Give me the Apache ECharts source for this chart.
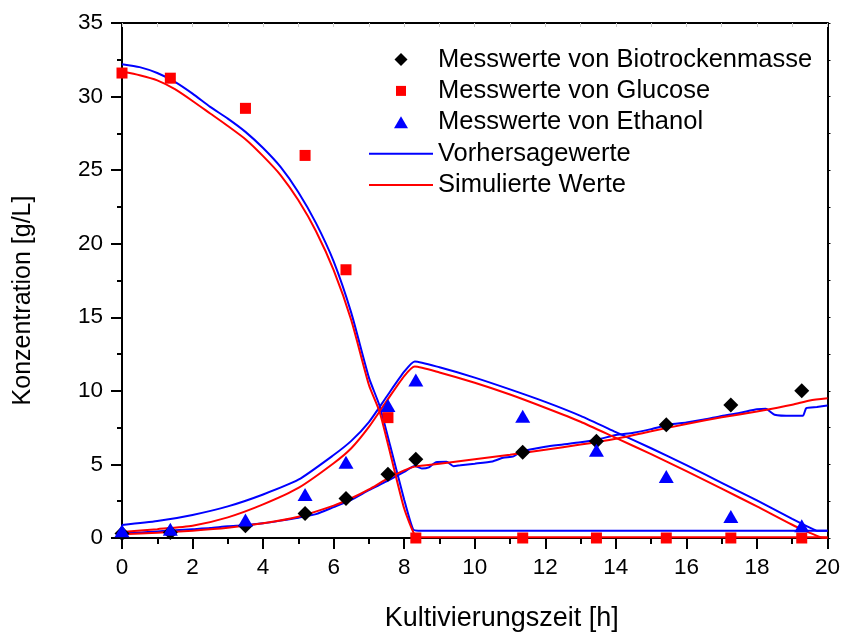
<!DOCTYPE html>
<html>
<head>
<meta charset="utf-8">
<script src="https://cdn.jsdelivr.net/npm/echarts@6/dist/echarts.min.js"></script>
<style>
    html, body { margin: 0; padding: 0; background: #fff; }
    #chart { width: 843px; height: 637px; }
</style>
</head>
<body>
<div id="chart"></div>
<script>
// Messwerte
const measTime = [0, 1.37, 3.5, 5.19, 6.35, 7.54, 8.33, 11.36, 13.45, 15.43, 17.26, 19.27];
const measBio = [0.31, 0.38, 0.83, 1.66, 2.68, 4.34, 5.35, 5.82, 6.58, 7.7, 9.04, 10.0];
const measGlc = [31.6, 31.25, 29.2, 26.0, 18.23, 8.18, 0, 0, 0, 0, 0, 0];
const measEth = [0.49, 0.6, 1.23, 2.95, 5.15, 9.0, 10.74, 8.28, 5.97, 4.18, 1.46, 0.83];

// Vorhersagewerte (blau)
const predGlcX = [0, 0.5, 1, 1.5, 2, 2.5, 3, 3.5, 4, 4.5, 5, 5.5, 6, 6.5, 7, 7.3, 7.6, 8, 8.25, 8.4, 20];
const predGlcY = [32.2, 32.0, 31.6, 31.0, 30.2, 29.3, 28.5, 27.6, 26.5, 25.2, 23.5, 21.4, 18.8, 15.3, 10.9, 9.0, 6.3, 2.6, 0.6, 0.5, 0.5];
const predEthX = [0, 1, 2, 3, 4, 5, 6, 6.5, 7, 7.5, 8, 8.3, 9, 10, 11, 12, 13, 14, 15, 16, 17, 18, 19, 19.5, 19.7, 20];
const predEthY = [0.88, 1.15, 1.57, 2.15, 2.96, 3.96, 5.64, 6.6, 7.88, 9.6, 11.3, 12.0, 11.6, 10.9, 10.1, 9.25, 8.3, 7.2, 6.1, 4.95, 3.75, 2.55, 1.3, 0.7, 0.5, 0.5];
const predBioX = [0, 0.5, 1, 1.5, 2, 2.5, 3, 3.5, 4, 4.5, 5, 5.5, 6, 6.5, 7, 7.5, 8, 8.3, 8.5, 8.7, 8.9, 9.2, 9.4, 9.6, 10, 10.5, 10.8, 11.1, 11.3, 12, 12.5, 13, 13.5, 14, 14.5, 15, 15.5, 16, 16.5, 17, 17.5, 18, 18.25, 18.5, 19, 19.3, 19.4, 19.7, 20];
const predBioY = [0.35, 0.38, 0.45, 0.52, 0.6, 0.68, 0.8, 0.87, 1.0, 1.18, 1.38, 1.62, 2.1, 2.6, 3.25, 3.85, 4.5, 4.9, 4.72, 4.8, 5.15, 5.18, 4.88, 4.95, 5.05, 5.2, 5.45, 5.55, 5.85, 6.2, 6.35, 6.5, 6.7, 7.0, 7.15, 7.4, 7.7, 7.85, 8.05, 8.3, 8.5, 8.75, 8.78, 8.38, 8.3, 8.3, 8.82, 8.9, 9.0];

// Simulierte Werte (rot)
const simGlcX = [0, 0.5, 1, 1.5, 2, 2.5, 3, 3.5, 4, 4.5, 5, 5.5, 6, 6.5, 7, 7.3, 7.6, 8, 8.3, 8.45, 20];
const simGlcY = [31.7, 31.45, 31.1, 30.5, 29.7, 28.85, 28.0, 27.1, 25.95, 24.65, 22.95, 20.85, 18.2, 14.8, 10.4, 8.6, 5.8, 2.0, 0.2, 0.05, 0.05];
const simEthX = [0, 1, 2, 3, 4, 5, 6, 6.5, 7, 7.5, 8, 8.3, 9, 10, 11, 12, 13, 14, 15, 16, 17, 18, 19, 19.5, 19.8, 20];
const simEthY = [0.4, 0.6, 0.83, 1.4, 2.28, 3.4, 5.08, 6.1, 7.55, 9.3, 11.0, 11.65, 11.25, 10.55, 9.75, 8.85, 7.9, 6.8, 5.7, 4.55, 3.35, 2.15, 0.9, 0.35, 0.05, 0.0];
const simBioX = [0, 1, 2, 3, 4, 5, 6, 6.5, 7, 7.5, 8, 8.3, 9, 10, 11, 12, 13, 14, 15, 16, 17, 18, 19, 19.5, 20];
const simBioY = [0.25, 0.35, 0.5, 0.7, 1.0, 1.45, 2.2, 2.7, 3.3, 4.0, 4.6, 4.85, 5.05, 5.35, 5.65, 6.0, 6.35, 6.75, 7.25, 7.75, 8.2, 8.6, 9.05, 9.35, 9.5];

const xTicks = [0, 2, 4, 6, 8, 10, 12, 14, 16, 18, 20];
const yTicks = [0, 5, 10, 15, 20, 25, 30, 35];

const BLUE = '#0000ff';
const RED = '#ff0000';
const font = 'Liberation Sans, Arial, sans-serif';

// legend icons: the leading moves span the full 64x13 icon box so the shapes keep their aspect
const iconDiamond = 'path://M0,0M64,13M32,0L38.5,6.5L32,13L25.5,6.5Z';
const iconSquare = 'path://M0,0M64,13M27,1.5L37,1.5L37,11.5L27,11.5Z';
const iconTriangle = 'path://M0,0M64,13M32,0.5L39,12.5L25,12.5Z';

function pairs(xs, ys) {
    return xs.map((x, i) => [x, ys[i]]);
}

function curve(name, color, xs, ys) {
    return {
        name: name,
        type: 'line',
        symbol: 'none',
        smooth: 0.2,
        lineStyle: { color: color, width: 2 },
        itemStyle: { color: color },
        data: pairs(xs, ys),
        z: 3
    };
}

const chart = echarts.init(document.getElementById('chart'));

const option = {
    backgroundColor: '#fff',
    animation: false,
    grid: { left: 122, right: 15, top: 23, bottom: 93 },
    legend: {
        orient: 'vertical',
        left: 368,
        top: 46.5,
        padding: 0,
        itemWidth: 64,
        itemHeight: 13,
        itemGap: 5.4,
        selectedMode: false,
        textStyle: { fontFamily: font, fontSize: 25.5, color: '#000', lineHeight: 24 },
        data: [
            { name: 'Messwerte von Biotrockenmasse', icon: iconDiamond },
            { name: 'Messwerte von Glucose', icon: iconSquare },
            { name: 'Messwerte von Ethanol', icon: iconTriangle },
            { name: 'Vorhersagewerte', itemStyle: { opacity: 0 } },
            { name: 'Simulierte Werte', itemStyle: { opacity: 0 } }
        ]
    },
    xAxis: [
        {
            type: 'value',
            min: xTicks[0],
            max: xTicks[xTicks.length - 1],
            interval: 2,
            name: 'Kultivierungszeit [h]',
            nameLocation: 'middle',
            nameGap: 67,
            nameTextStyle: { fontFamily: font, fontSize: 27, color: '#000', padding: [0, 0, 0, 54] },
            axisLine: { onZero: false, lineStyle: { color: '#000', width: 2 } },
            axisTick: { inside: false, length: 11, lineStyle: { color: '#000', width: 2 } },
            minorTick: { show: true, splitNumber: 2, length: 6, lineStyle: { color: '#000', width: 2 } },
            axisLabel: { fontFamily: font, fontSize: 22.5, color: '#000', margin: 18 },
            splitLine: { show: false }
        },
        {
            type: 'value',
            position: 'top',
            min: xTicks[0],
            max: xTicks[xTicks.length - 1],
            interval: 2,
            axisLine: { onZero: false, lineStyle: { color: '#000', width: 2 } },
            axisTick: { inside: true, length: 4, lineStyle: { color: '#ccc', width: 1 } },
            minorTick: { show: true, splitNumber: 2, length: 4, lineStyle: { color: '#ccc', width: 1 } },
            axisLabel: { show: false },
            splitLine: { show: false }
        }
    ],
    yAxis: [
        {
            type: 'value',
            min: yTicks[0],
            max: yTicks[yTicks.length - 1],
            interval: 5,
            name: 'Konzentration [g/L]',
            nameLocation: 'middle',
            nameGap: 86,
            nameTextStyle: { fontFamily: font, fontSize: 25, color: '#000', padding: [0, 40, 0, 0] },
            axisLine: { onZero: false, lineStyle: { color: '#000', width: 2 } },
            axisTick: { inside: false, length: 11, lineStyle: { color: '#000', width: 2 } },
            minorTick: { show: true, splitNumber: 2, length: 5, lineStyle: { color: '#000', width: 2 } },
            axisLabel: { fontFamily: font, fontSize: 22.5, color: '#000', margin: 19 },
            splitLine: { show: false }
        },
        {
            type: 'value',
            position: 'right',
            min: yTicks[0],
            max: yTicks[yTicks.length - 1],
            interval: 5,
            axisLine: { onZero: false, lineStyle: { color: '#000', width: 2 } },
            axisTick: { inside: false, length: 3, lineStyle: { color: '#000', width: 1 } },
            minorTick: { show: true, splitNumber: 2, length: 3, lineStyle: { color: '#000', width: 1 } },
            axisLabel: { show: false },
            splitLine: { show: false }
        }
    ],
    series: [
        curve('Vorhersagewerte', BLUE, predGlcX, predGlcY),
        curve('Vorhersagewerte', BLUE, predEthX, predEthY),
        curve('Vorhersagewerte', BLUE, predBioX, predBioY),
        curve('Simulierte Werte', RED, simGlcX, simGlcY),
        curve('Simulierte Werte', RED, simEthX, simEthY),
        curve('Simulierte Werte', RED, simBioX, simBioY),
        {
            name: 'Messwerte von Biotrockenmasse',
            type: 'scatter',
            symbol: 'diamond',
            symbolSize: 15,
            itemStyle: { color: '#000', opacity: 1 },
            data: pairs(measTime, measBio),
            z: 5
        },
        {
            name: 'Messwerte von Glucose',
            type: 'scatter',
            symbol: 'rect',
            symbolSize: 11,
            itemStyle: { color: RED, opacity: 1 },
            data: pairs(measTime, measGlc),
            z: 5
        },
        {
            name: 'Messwerte von Ethanol',
            type: 'scatter',
            symbol: 'triangle',
            symbolSize: [15, 13],
            itemStyle: { color: BLUE, opacity: 1 },
            data: pairs(measTime, measEth),
            z: 5
        }
    ]
};

chart.setOption(option);
</script>
</body>
</html>
